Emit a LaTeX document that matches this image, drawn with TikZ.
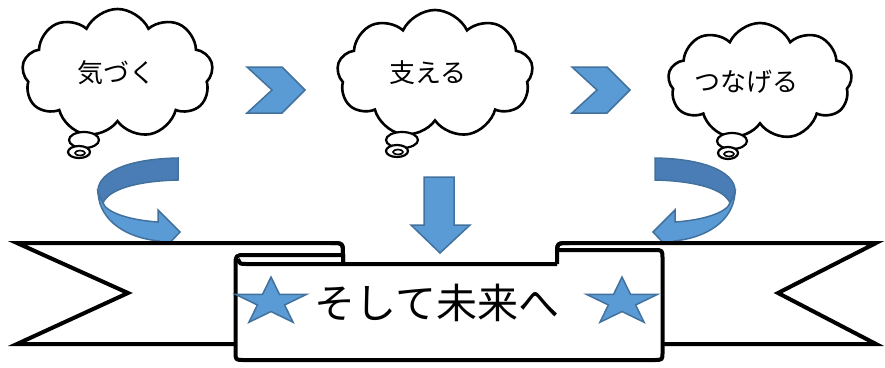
\documentclass[tikz,border=0pt]{standalone}
\usepackage{fontspec}
\newfontfamily\jp{Noto Sans CJK JP}
\usetikzlibrary{shapes.symbols,shapes.geometric}
\definecolor{bfill}{HTML}{5B9BD5}
\definecolor{bline}{HTML}{41719C}
\definecolor{bdark}{HTML}{4A7DB5}
\begin{document}
\begin{tikzpicture}[x=1pt,y=-1pt,
  cloudy/.style={cloud, draw=black, fill=white, line width=2.6pt, cloud puffs=9, cloud puff arc=130, inner sep=0pt},
  bubble/.style={draw=black, line width=2.2pt, fill=white},
  blueshape/.style={fill=bfill, draw=bline, line width=1.5pt, line join=miter},
  darkshape/.style={fill=bdark, draw=bline, line width=1.5pt},
  ribbon/.style={draw=black, line width=4pt, fill=white, line join=miter},
  ribline/.style={draw=black, line width=4pt, line join=round},
  bstar/.style={star, star points=5, star point ratio=2.62, minimum size=50pt, inner sep=0pt, fill=bfill, draw=bline, line width=1.5pt, xscale=1.5},
  ctext/.style={font=\jp\fontsize{26}{26}\selectfont},
  btext/.style={font=\jp\fontsize{41}{41}\selectfont}]
\useasboundingbox (0,0) rectangle (885,367);
% clouds
\node[cloudy, minimum width=191pt, minimum height=129pt] (c1) at (117.5,73.5) {};
\node[cloudy, minimum width=196pt, minimum height=128pt] (c2) at (435,74) {};
\node[cloudy, minimum width=184pt, minimum height=117pt] (c3) at (760,81.5) {};
\node[ctext] (t1) at (116,73) {気づく};
\node[ctext] (t2) at (428,73) {支える};
\node[ctext] (t3) at (746,82) {つなげる};
% thought bubbles
\draw[bubble] (84,140) ellipse[x radius=15, y radius=8];
\draw[bubble] (79,152) ellipse[x radius=11, y radius=6];
\draw[black, line width=1.6pt] (80,153) ellipse[x radius=5, y radius=2.5];
\draw[bubble] (402,140) ellipse[x radius=16, y radius=8];
\draw[bubble] (397,151) ellipse[x radius=11, y radius=6];
\draw[black, line width=1.6pt] (398,152) ellipse[x radius=5, y radius=2.5];
\draw[bubble] (732,141) ellipse[x radius=15, y radius=8];
\draw[bubble] (728,153) ellipse[x radius=10, y radius=6];
\draw[black, line width=1.6pt] (729,154) ellipse[x radius=5, y radius=2.5];
% chevrons
\filldraw[blueshape] (247,67) -- (282,67) -- (305,90) -- (282,113) -- (247,113) -- (272,90) -- cycle;
\filldraw[blueshape] (572,67) -- (607,67) -- (630,90) -- (607,113) -- (572,113) -- (597,90) -- cycle;
% down arrow
\filldraw[blueshape] (424,177) -- (454,177) -- (454,225) -- (470,225) -- (440,253) -- (411,225) -- (424,225) -- cycle;
% curved arrows
\foreach \s/\sh in {1/0, -1/833}{
\begin{scope}[xshift=\sh pt, xscale=\s]
\filldraw[darkshape] (178,158) .. controls (122,159) and (96,175) .. (98,193) -- (103,203) .. controls (108,190) and (135,181) .. (178,180) -- cycle;
\filldraw[blueshape] (98,193) .. controls (100,222) and (128,238) .. (159,241) -- (160,253) -- (180,232) -- (158,210) -- (158,222) .. controls (128,220) and (106,212) .. (103,203) -- cycle;
\end{scope}}
% ribbon tails
\filldraw[ribbon] (17,243) -- (331,243) .. controls (343,243) .. (343,255) -- (343,344) -- (17,344) -- (128,293) -- cycle;
\filldraw[ribbon] (876,243) -- (569,243) .. controls (557,243) .. (557,255) -- (557,344) -- (876,344) -- (778,293) -- cycle;
% panel
\fill[white] (235.5,266) .. controls (235.5,255) .. (246,255) -- (343,255) -- (343,264) -- (557,264) -- (557,250) -- (654,250) .. controls (662.5,250) .. (662.5,259) -- (662.5,352) .. controls (662.5,360) .. (654,360) -- (244,360) .. controls (235.5,360) .. (235.5,352) -- cycle;
\draw[ribline] (343,255) -- (246,255) .. controls (235.5,255) .. (235.5,266) -- (235.5,352) .. controls (235.5,360) .. (244,360) -- (654,360) .. controls (662.5,360) .. (662.5,352) -- (662.5,259) .. controls (662.5,250) .. (654,250) -- (557,250);
\draw[ribline] (557,264) -- (246,264) .. controls (240,264) .. (238,259);
\draw[ribline] (331,243) .. controls (343,243) .. (343,255) -- (343,264);
\draw[ribline] (569,243) .. controls (557,243) .. (557,255) -- (557,264);
% stars and text
\node[bstar] (s1) at (271,302) {};
\node[bstar] (s2) at (622,302) {};
\node[btext] (bt) at (437,303) {そして未来へ};
\end{tikzpicture}
\end{document}
